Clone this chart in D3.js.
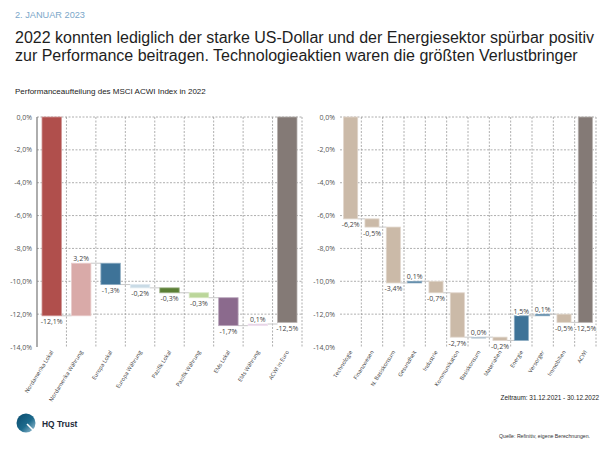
<!DOCTYPE html>
<html><head><meta charset="utf-8">
<script src="https://cdn.jsdelivr.net/npm/d3@7"></script>
<style>
html,body{margin:0;padding:0;background:#fff;}
svg{display:block;}
</style></head>
<body><svg id="c" width="600" height="450"></svg>
<script>
// ---- data ----
const leftCategories = ["Nordamerika Lokal","Nordamerika Währung","Europa Lokal","Europa Währung","Pazifik Lokal","Pazifik Währung","EMs Lokal","EMs Währung","ACWI in Euro"];
const leftValues = [-12.1, 3.2, -1.3, -0.2, -0.3, -0.3, -1.7, 0.1, -12.5];
const rightCategories = ["Technologie","Finanzwesen","N. Basiskonsum","Gesundheit","Industrie","Kommunikation","Basiskonsum","Materialien","Energie","Versorger","Immobilien","ACWI"];
const rightValues = [-6.2, -0.5, -3.4, 0.1, -0.7, -2.7, 0.0, -0.2, 1.5, 0.1, -0.5, -12.5];
const yTicks = [0, -2, -4, -6, -8, -10, -12, -14];

// ---- styles ----
const leftColors = ["#b04f4c","#d9aaa8","#3e7398","#c9dbe6","#5b7f35","#bbd69a","#8b6a8d","#e3cde3","#847a76"];
const rightColors = ["#cbbaa8","#cbbaa8","#cbbaa8","#3e7398","#cbbaa8","#cbbaa8","#8fa9bb","#cbbaa8","#3e7398","#3e7398","#cbbaa8","#847a76"];

const svg = d3.select("#c");
const fmt = v => d3.format(".1f")(v).replace(".", ",").replace("−","-") + "%";
const LF = "'Liberation Sans', Arial, sans-serif";
const CF = "'Open Sans', 'Noto Sans', sans-serif";

// header
svg.append("text").attr("x",15).attr("y",18).attr("font-family",LF).attr("font-size",9.2)
  .attr("fill","#7ba7c9").text("2. JANUAR 2023");
svg.append("text").attr("x",15).attr("y",43).attr("font-family",LF).attr("font-size",16)
  .attr("fill","#1e1e1e").text("2022 konnten lediglich der starke US-Dollar und der Energiesektor spürbar positiv");
svg.append("text").attr("x",15).attr("y",61).attr("font-family",LF).attr("font-size",16)
  .attr("fill","#1e1e1e").text("zur Performance beitragen. Technologieaktien waren die größten Verlustbringer");
svg.append("text").attr("x",15).attr("y",94).attr("font-family",LF).attr("font-size",8)
  .attr("fill","#222").text("Performanceaufteilung des MSCI ACWI Index in 2022");

const y = d3.scaleLinear().domain([0,-14]).range([117,347]);

function waterfall(cats, vals, colors, x0, x1, hasAxis, labelX) {
  const g = svg.append("g");
  const x = d3.scaleBand().domain(cats).range([x0,x1]).paddingInner(0).paddingOuter(0);
  const bw = x.bandwidth()*0.66;
  const off = (x.bandwidth()-bw)/2;
  let cum = 0;
  const rows = vals.map((v,i) => {
    let s, e;
    if (i === vals.length-1) { s = 0; e = v; }
    else { s = cum; e = cum + v; cum = e; }
    return {c:cats[i], v, s, e, col:colors[i]};
  });
  // horizontal gridlines
  g.selectAll("line.hg").data(yTicks.filter(t=>t>-14)).join("line")
    .attr("x1",x0).attr("x2",x1).attr("y1",d=>y(d)).attr("y2",d=>y(d))
    .attr("stroke","#9a9a9a").attr("stroke-width",0.8).attr("stroke-dasharray","2,1.5");
  // vertical gridlines at band boundaries
  const bounds = cats.map(c=>x(c)+x.bandwidth());
  g.selectAll("line.vg").data(bounds).join("line")
    .attr("x1",d=>d).attr("x2",d=>d).attr("y1",y(0)).attr("y2",y(-14))
    .attr("stroke","#9a9a9a").attr("stroke-width",0.8).attr("stroke-dasharray","2,1.5");
  // y axis labels
  g.selectAll("text.yt").data(yTicks).join("text")
    .attr("x",labelX).attr("y",d=>y(d)+2.5).attr("text-anchor","end")
    .attr("font-family",CF).attr("font-size",7).attr("fill","#555").text(d=>fmt(d));
  if (hasAxis) {
    g.append("line").attr("x1",x0).attr("x2",x0).attr("y1",y(0)).attr("y2",y(-14))
      .attr("stroke","#777").attr("stroke-width",1.2);
  }
  // connectors
  g.selectAll("line.cn").data(rows.slice(0,-1)).join("line")
    .attr("x1",(d)=>x(d.c)+off+bw).attr("x2",(d,i)=>x(rows[i+1].c)+off)
    .attr("y1",d=>y(d.e)).attr("y2",d=>y(d.e))
    .attr("stroke","#c8c8c8").attr("stroke-width",1);
  // bars
  g.selectAll("rect.bar").data(rows).join("rect")
    .attr("x",d=>x(d.c)+off).attr("width",bw)
    .attr("y",d=>y(Math.max(d.s,d.e)))
    .attr("height",d=>Math.max(1, Math.abs(y(d.s)-y(d.e))))
    .attr("fill",d=>d.col)
    .attr("stroke",d=>d3.interpolateRgb(d.col,"#ffffff")(0.4)).attr("stroke-width",0.8);
  // value labels
  g.selectAll("text.vl").data(rows).join("text")
    .attr("x",d=>x(d.c)+x.bandwidth()/2)
    .attr("y",(d,i)=> (d.v>=0 && i<rows.length-1) ? y(Math.max(d.s,d.e))-2 : y(Math.min(d.s,d.e))+8.5)
    .attr("text-anchor","middle").attr("font-family",CF).attr("font-size",7).attr("fill","#444")
    .attr("stroke","#fff").attr("stroke-width",2).attr("paint-order","stroke")
    .text(d=>fmt(d.v));
  // category labels
  g.selectAll("text.cl").data(cats).join("text")
    .attr("transform",d=>`translate(${x(d)+x.bandwidth()/2+2},${y(-14)+5}) rotate(-58)`)
    .attr("text-anchor","end").attr("font-family",CF).attr("font-size",5.5).attr("fill","#333")
    .text(d=>d);
}

waterfall(leftCategories, leftValues, leftColors, 37, 302, true, 32);
waterfall(rightCategories, rightValues, rightColors, 340, 596, false, 335);

// footer
svg.append("text").attr("x",599).attr("y",400).attr("text-anchor","end").attr("font-family",LF).attr("font-size",6.4)
  .attr("fill","#222").text("Zeitraum: 31.12.2021 - 30.12.2022");
svg.append("text").attr("x",499).attr("y",438).attr("font-family",LF).attr("font-size",5.2)
  .attr("fill","#333").text("Quelle: Refinitiv, eigene Berechnungen.");

// logo
const defs = svg.append("defs");
const gr = defs.append("linearGradient").attr("id","lg").attr("x1","0").attr("y1","0").attr("x2","1").attr("y2","1");
gr.append("stop").attr("offset","0").attr("stop-color","#0a4a6c");
gr.append("stop").attr("offset","0.55").attr("stop-color","#1c6a8c");
gr.append("stop").attr("offset","1").attr("stop-color","#a9cbdc");
svg.append("circle").attr("cx",26).attr("cy",423).attr("r",9.5).attr("fill","url(#lg)");
svg.append("line").attr("x1",27).attr("y1",424).attr("x2",35).attr("y2",432)
  .attr("stroke","#fff").attr("stroke-width",1.6);
svg.append("text").attr("x",42).attr("y",426.5).attr("font-family",LF).attr("font-weight","bold")
  .attr("font-size",8.4).attr("fill","#1d2b3a").text("HQ Trust");
</script></body></html>
